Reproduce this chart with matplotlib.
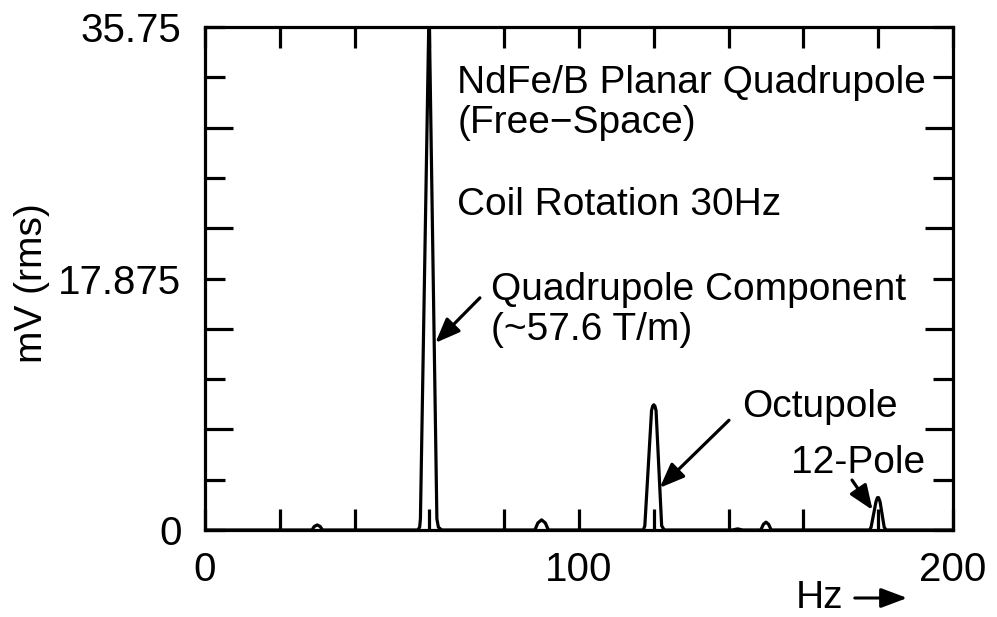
"""Harmonic spectrum of the rotating-coil signal, NdFe/B planar quadrupole."""

import matplotlib
matplotlib.use("Agg")
import matplotlib.pyplot as plt
from matplotlib.ticker import FixedLocator, FixedFormatter
import numpy as np

plt.rcParams["font.family"] = ["Liberation Sans", "DejaVu Sans"]

# spectrum, one small array per feature (Hz, mV rms)
bump30_hz = [28.6, 29.2, 30.0, 30.8, 31.4]
bump30_mv = [0.0, 0.25, 0.36, 0.25, 0.0]

quad_hz = [56.9, 57.4, 57.6, 59.8, 60.0, 62.0, 62.4, 63.3]
quad_mv = [0.0, 0.2, 0.8, 35.5, 35.75, 0.8, 0.2, 0.0]

bump90_hz = [88.2, 89.0, 90.0, 91.0, 91.8]
bump90_mv = [0.0, 0.5, 0.72, 0.5, 0.0]

oct_hz = [117.2, 117.6, 119.4, 119.7, 120.0, 120.3, 120.6, 122.1, 122.8]
oct_mv = [0.0, 0.3, 8.5, 8.8, 8.9, 8.8, 8.5, 0.3, 0.0]

bump143_hz = [141.0, 142.4, 143.8]
bump143_mv = [0.0, 0.08, 0.0]

bump150_hz = [148.6, 149.3, 150.0, 150.7, 151.4]
bump150_mv = [0.0, 0.4, 0.56, 0.4, 0.0]

pole12_hz = [177.7, 178.1, 179.4, 179.8, 180.1, 180.5, 181.6, 182.1]
pole12_mv = [0.0, 0.2, 2.0, 2.3, 2.3, 2.0, 0.2, 0.0]

X_MAX = 200
Y_MAX = 35.75
y_labels = ["0", "17.875", "35.75"]
x_labels = ["0", "100", "200"]

FS = 28
TICK_FS = 29
LW = 2.3


def build_trace():
    hz = [0.0]
    mv = [0.0]
    for f, a in [(bump30_hz, bump30_mv), (quad_hz, quad_mv), (bump90_hz, bump90_mv),
                 (oct_hz, oct_mv), (bump143_hz, bump143_mv), (bump150_hz, bump150_mv),
                 (pole12_hz, pole12_mv)]:
        hz += f
        mv += a
    hz.append(float(X_MAX))
    mv.append(0.0)
    return np.array(hz), np.array(mv)


def main():
    fig = plt.figure(figsize=(9.97, 6.17), dpi=100)
    ax = fig.add_axes([205 / 997, 1 - 530 / 617, 748 / 997, 503 / 617])

    hz, mv = build_trace()
    ax.plot(hz, mv, color="black", lw=LW, solid_joinstyle="round")

    ax.set_xlim(0, X_MAX)
    ax.set_ylim(0, Y_MAX)
    for s in ax.spines.values():
        s.set_linewidth(LW)

    # y: short ticks at odd tenths (labels at 0, mid, top), long ticks at even tenths
    step = Y_MAX / 10
    y_major = [0, step, 3 * step, 5 * step, 7 * step, 9 * step, Y_MAX]
    y_minor = [2 * step, 4 * step, 6 * step, 8 * step]
    ax.yaxis.set_major_locator(FixedLocator(y_major))
    ax.yaxis.set_major_formatter(FixedFormatter([y_labels[0], "", "", y_labels[1], "", "", y_labels[2]]))
    ax.yaxis.set_minor_locator(FixedLocator(y_minor))

    ax.xaxis.set_major_locator(FixedLocator([0, 100, 200]))
    ax.xaxis.set_major_formatter(FixedFormatter(x_labels))
    ax.xaxis.set_minor_locator(FixedLocator([20, 40, 60, 80, 120, 140, 160, 180]))

    ax.tick_params(axis="both", which="both", direction="in", width=LW,
                   top=True, right=True, labelsize=TICK_FS)
    ax.tick_params(axis="y", which="major", length=14.5, pad=17)
    ax.tick_params(axis="y", which="minor", length=20.5)
    ax.tick_params(axis="x", which="both", length=15, pad=15)

    fig.text(0.032, 0.541, "mV (rms)", rotation=90, ha="center", va="center", fontsize=FS)

    # Hz label with arrow under the axis
    fig.text(843 / 997, 1 - 608 / 617, "Hz", ha="right", va="baseline", fontsize=FS)
    fig.patches.append(matplotlib.patches.FancyArrowPatch(
        (852 / 997, 1 - 598 / 617), (910 / 997, 1 - 598 / 617),
        transform=fig.transFigure, arrowstyle="-|>,head_length=0.8,head_width=0.3",
        mutation_scale=20, lw=2.2, color="black"))

    txt = dict(fontsize=FS, ha="left", va="baseline")
    ax.text(67.5, 31.06, "NdFe/B Planar Quadrupole", **txt)
    ax.text(67.5, 28.2, "(Free\u2212Space)", **txt)
    ax.text(67.5, 22.4, "Coil Rotation 30Hz", **txt)
    ax.text(76.6, 16.35, "Quadrupole Component", **txt)
    ax.text(76.4, 13.5, "(~57.6 T/m)", **txt)
    ax.text(143.6, 8.03, "Octupole", **txt)
    ax.text(156.8, 4.05, "12-Pole", **txt)

    arrow = dict(arrowstyle="-|>,head_length=0.75,head_width=0.3", color="black",
                 lw=2.3, mutation_scale=20, shrinkA=0, shrinkB=0)
    ax.annotate("", xy=(61.6, 13.3), xytext=(73.5, 16.5), arrowprops=arrow)
    ax.annotate("", xy=(121.6, 3.0), xytext=(140.1, 7.8), arrowprops=arrow)
    ax.annotate("", xy=(178.5, 1.42), xytext=(173.0, 3.55), arrowprops=arrow)

    fig.savefig("out.png", dpi=100)


if __name__ == "__main__":
    main()
